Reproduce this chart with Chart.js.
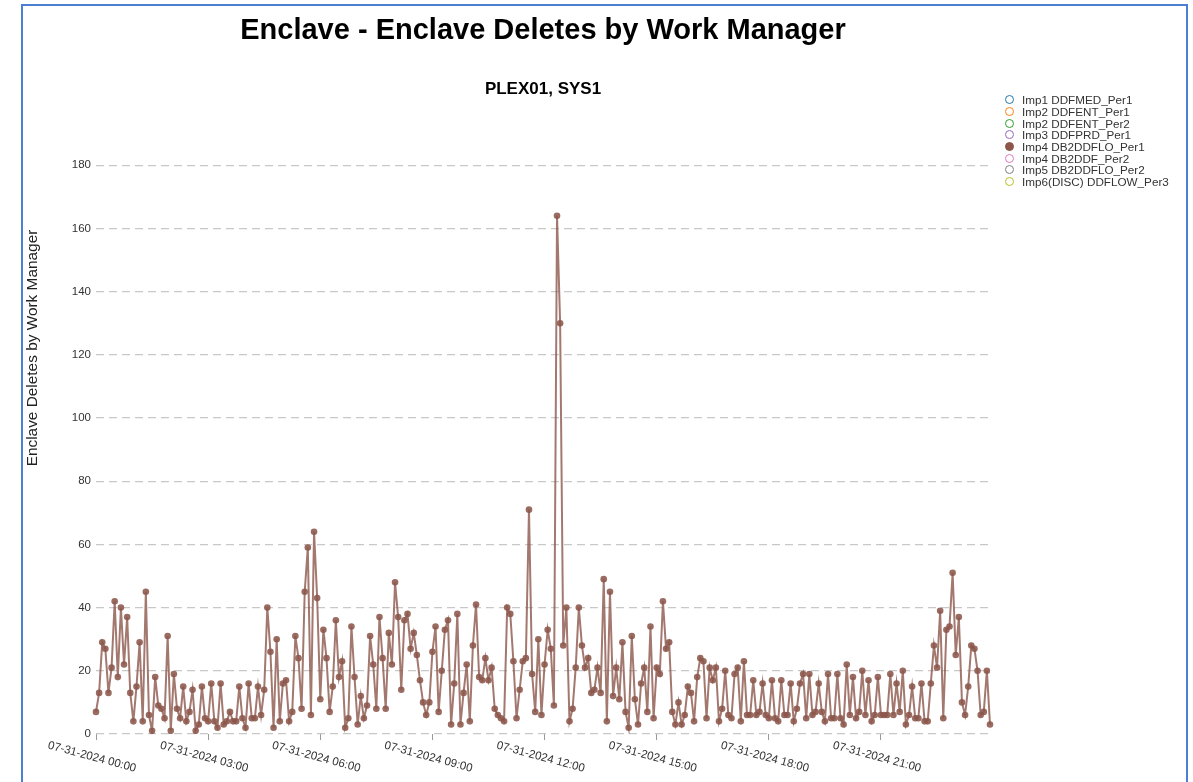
<!DOCTYPE html>
<html>
<head>
<meta charset="utf-8">
<script src="https://cdn.jsdelivr.net/npm/chart.js@4.4.1/dist/chart.umd.min.js"></script>
<style>
  body { margin: 0; background: #fff; font-family: Arial, "Liberation Sans", sans-serif; overflow: hidden; }
  #frame { position: absolute; left: 21px; top: 4px; width: 1163px; height: 800px; border: 2px solid #4a7fd4; }
  #chart1 { position: absolute; left: 0; top: 0; }
  #legend { position: absolute; left: 1005px; top: 94px; }
  .item { display: flex; align-items: center; height: 11.7px; font-size: 11.7px; color: #333; white-space: nowrap; }
  .dot { width: 7px; height: 7px; border-radius: 50%; border: 1.4px solid; margin-right: 8px; }
</style>
</head>
<body>
<div id="frame"></div>
<canvas id="chart1" width="1086" height="782"></canvas>
<div id="legend"></div>
<script>
// deletes every 5 minutes, one row per hour
const db2ddfloPer1 = [
  7, 13, 29, 27, 13, 21, 42, 18, 40, 22, 37, 13,
  4, 15, 29, 4, 45, 6, 1, 18, 9, 8, 5, 31,
  1, 19, 8, 5, 15, 4, 7, 14, 1, 3, 15, 5,
  4, 16, 4, 2, 16, 3, 4, 7, 4, 4, 15, 5,
  2, 16, 5, 5, 15, 6, 14, 40, 26, 2, 30, 4,
  16, 17, 4, 7, 31, 24, 8, 45, 59, 6, 64, 43,
  11, 33, 24, 7, 15, 36, 18, 23, 2, 5, 34, 18,
  3, 12, 5, 9, 31, 22, 8, 37, 24, 8, 32, 22,
  48, 37, 14, 36, 38, 27, 32, 25, 17, 10, 6, 10,
  26, 34, 7, 20, 33, 36, 3, 16, 38, 3, 13, 22,
  4, 28, 41, 18, 17, 24, 17, 21, 8, 6, 5, 4,
  40, 38, 23, 5, 14, 23, 24, 71, 19, 7, 30, 6,
  22, 33, 27, 9, 164, 130, 28, 40, 4, 8, 21, 40,
  28, 21, 24, 13, 14, 21, 13, 49, 4, 45, 12, 21,
  11, 29, 7, 2, 31, 11, 3, 16, 21, 7, 34, 5,
  21, 19, 42, 27, 29, 7, 3, 10, 3, 6, 15, 13,
  4, 18, 24, 23, 5, 21, 17, 21, 4, 8, 20, 6,
  5, 19, 21, 4, 23, 6, 6, 17, 6, 7, 16, 6,
  5, 17, 5, 4, 17, 6, 6, 16, 4, 8, 16, 19,
  5, 19, 6, 7, 16, 7, 4, 19, 5, 5, 19, 5,
  3, 22, 6, 18, 5, 7, 20, 6, 17, 4, 6, 18,
  6, 6, 6, 19, 6, 16, 7, 20, 3, 6, 15, 5,
  5, 16, 4, 4, 16, 28, 21, 39, 5, 33, 34, 51,
  25, 37, 10, 6, 15, 28, 27, 20, 6, 7, 20, 3
];

const seriesNames = ['Imp1 DDFMED_Per1', 'Imp2 DDFENT_Per1', 'Imp2 DDFENT_Per2', 'Imp3 DDFPRD_Per1',
  'Imp4 DB2DDFLO_Per1', 'Imp4 DB2DDF_Per2', 'Imp5 DB2DDFLO_Per2', 'Imp6(DISC) DDFLOW_Per3'];
const seriesColors = ['#1f77b4', '#ff7f0e', '#2ca02c', '#9467bd', '#8c564b', '#e377c2', '#7f7f7f', '#bcbd22'];
const tickLabels = ['07-31-2024 00:00', '07-31-2024 03:00', '07-31-2024 06:00', '07-31-2024 09:00',
  '07-31-2024 12:00', '07-31-2024 15:00', '07-31-2024 18:00', '07-31-2024 21:00'];
const tickEvery = 36;

let times = [];
for (let h = 0; h < 24; h++) {
  for (let m = 0; m < 60; m += 5) {
    times.push('07-31-2024 ' + String(h).padStart(2, '0') + ':' + String(m).padStart(2, '0'));
  }
}

const font = 'Arial, "Liberation Sans", sans-serif';

let datasets = seriesNames.map(function(name, i) {
  return {
    label: name,
    data: name === 'Imp4 DB2DDFLO_Per1' ? db2ddfloPer1 : [],
    borderColor: 'rgba(140, 86, 75, 0.8)',
    backgroundColor: 'rgba(140, 86, 75, 0.88)',
    pointBorderColor: 'rgba(140, 86, 75, 0.0)',
    color: seriesColors[i],
    borderWidth: 2,
    pointRadius: 3.3,
    tension: 0
  };
});

// x labels are tilted clockwise, chart.js only tilts the other way
const xLabels = {
  id: 'xLabels',
  afterDraw(chart) {
    const xs = chart.scales.x;
    const c = chart.ctx;
    c.save();
    c.font = '11.5px ' + font;
    c.fillStyle = '#333';
    c.textAlign = 'center';
    c.textBaseline = 'middle';
    tickLabels.forEach(function(lab, k) {
      const x = xs.getPixelForValue(k * tickEvery);
      c.save();
      c.translate(x - 4, xs.top + 23);
      c.rotate(15 * Math.PI / 180);
      c.fillText(lab, 0, 0);
      c.restore();
    });
    // y axis title
    c.translate(33, 348);
    c.rotate(-Math.PI / 2);
    c.font = '15.4px ' + font;
    c.fillStyle = '#222';
    c.fillText('Enclave Deletes by Work Manager', 0, 0);
    c.restore();
  }
};

let ctx = document.getElementById('chart1').getContext('2d');
let myChart = new Chart(ctx, {
  type: 'line',
  data: { labels: times, datasets: datasets },
  options: {
    responsive: false,
    animation: false,
    layout: { padding: 0 },
    plugins: {
      legend: { display: false },
      tooltip: { enabled: false },
      title: {
        display: true,
        text: 'Enclave - Enclave Deletes by Work Manager',
        color: '#000',
        font: { family: font, size: 29, weight: 'bold' },
        padding: { top: 14, bottom: 0 }
      },
      subtitle: {
        display: true,
        text: 'PLEX01, SYS1',
        color: '#000',
        font: { family: font, size: 17, weight: 'bold' },
        padding: { top: 30, bottom: 66 }
      }
    },
    scales: {
      x: {
        ticks: { display: false },
        grid: {
          drawOnChartArea: false,
          tickLength: 6,
          color: function(c) { return c.index % tickEvery === 0 ? '#999' : 'rgba(0,0,0,0)'; }
        },
        border: { display: false },
        afterFit: function(s) { s.height = 48; }
      },
      y: {
        min: 0,
        max: 180,
        ticks: { stepSize: 20, color: '#333', padding: 5, font: { family: font, size: 11.5 } },
        grid: { color: '#c8c8c8', lineWidth: 1.3, drawTicks: false },
        border: { display: false, dash: [8, 5] },
        afterFit: function(s) { s.width = 96; }
      },
      // empty right gutter so the titles centre over the plot
      gutter: {
        position: 'right',
        ticks: { display: false },
        grid: { display: false },
        border: { display: false },
        afterFit: function(s) { s.width = 96; }
      }
    }
  },
  plugins: [xLabels]
});

// legend
let legend = document.getElementById('legend');
myChart.data.datasets.forEach(function(ds) {
  let item = document.createElement('div');
  item.className = 'item';
  let dot = document.createElement('span');
  dot.className = 'dot';
  dot.style.borderColor = ds.color;
  if (ds.data.length) dot.style.background = ds.color;
  item.appendChild(dot);
  item.appendChild(document.createTextNode(ds.label));
  legend.appendChild(item);
});
</script>
</body>
</html>
